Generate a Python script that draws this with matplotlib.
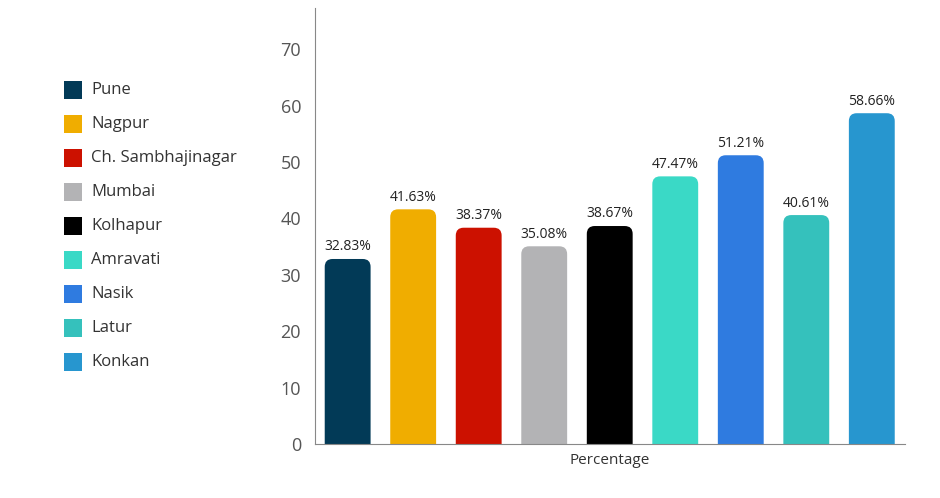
import matplotlib
matplotlib.use("Agg")
import matplotlib.pyplot as plt
from matplotlib.patches import FancyBboxPatch, Rectangle

regions = ["Pune", "Nagpur", "Ch. Sambhajinagar", "Mumbai", "Kolhapur",
           "Amravati", "Nasik", "Latur", "Konkan"]
values = [32.83, 41.63, 38.37, 35.08, 38.67, 47.47, 51.21, 40.61, 58.66]
colors = ["#023a57", "#f0ad00", "#cc1100", "#b3b3b5", "#000000",
          "#3ad9c6", "#2f7be0", "#35c1bc", "#2796cf"]

plt.rcParams['font.family'] = ['Open Sans', 'DejaVu Sans']
fig = plt.figure(figsize=(9.4, 4.98), dpi=100)
ax = fig.add_axes([0.335, 0.108, 0.628, 0.876])
ax.set_xlim(-0.5, 8.51)
ax.set_ylim(0, 77.3)

w = 0.7
for i, (v, c) in enumerate(zip(values, colors)):
    p = FancyBboxPatch((i - w/2 + 0.12, -5), w - 0.24, v + 5 - 1.4,
                       boxstyle="round,pad=0.12", mutation_aspect=11.6,
                       fc=c, ec="none", clip_on=True)
    ax.add_patch(p)
    ax.text(i, v + 0.8, f"{v:.2f}%", ha="center", va="bottom", fontsize=10, color="#222222")

ax.set_yticks(range(0, 80, 10))
ax.tick_params(axis='y', length=0, labelsize=13, labelcolor="#555555", pad=10)
ax.set_xticks([])
ax.set_xlabel("Percentage", fontsize=11, color="#333333", labelpad=6)
for s in ["top", "right"]:
    ax.spines[s].set_visible(False)
for s in ["left", "bottom"]:
    ax.spines[s].set_color("#888888")

for k, (r, c) in enumerate(zip(regions, colors)):
    y = 1 - (90 + 34 * k) / 498
    fig.patches.append(Rectangle((64/940, y - 9/498), 18/940, 18/498,
                                 transform=fig.transFigure, fc=c, ec="none"))
    fig.text(91/940, y, r, va="center", ha="left", fontsize=12, color="#333333")

fig.savefig("out.png", dpi=100)
